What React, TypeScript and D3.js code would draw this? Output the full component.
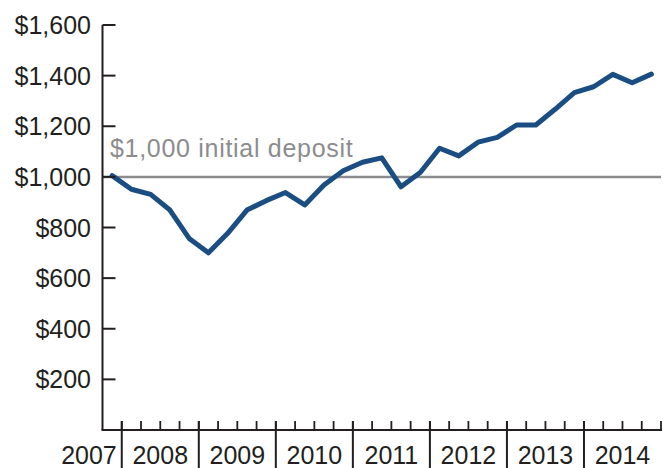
import React from "react";
import * as d3 from "d3";

const quarters = [
  "2007Q4",
  "2008Q1", "2008Q2", "2008Q3", "2008Q4",
  "2009Q1", "2009Q2", "2009Q3", "2009Q4",
  "2010Q1", "2010Q2", "2010Q3", "2010Q4",
  "2011Q1", "2011Q2", "2011Q3", "2011Q4",
  "2012Q1", "2012Q2", "2012Q3", "2012Q4",
  "2013Q1", "2013Q2", "2013Q3", "2013Q4",
  "2014Q1", "2014Q2", "2014Q3", "2014Q4",
];
const values = [
  1005,
  951, 931, 869, 757,
  700, 777, 869, 906,
  938, 889, 968, 1024,
  1058, 1075, 961, 1017,
  1113, 1083, 1137, 1156,
  1205, 1205, 1267, 1333,
  1356, 1405, 1372, 1406,
];
const years = [2007, 2008, 2009, 2010, 2011, 2012, 2013, 2014];
const yTicks = [200, 400, 600, 800, 1000, 1200, 1400, 1600];
const depositValue = 1000;
const depositLabel = "$1,000 initial deposit";

const W = 663;
const H = 468;
const left = 102.5;
const right = 661;
const top = 25;
const bottom = 430;

const FONT = "'Liberation Sans', Arial, Helvetica, sans-serif";
const INK = "#231f20";

export default function App() {
  // quarter index 0 = start of 2007 Q4
  const nQ = quarters.length;
  const x = d3.scaleLinear().domain([0, nQ]).range([left, right]);
  const y = d3.scaleLinear().domain([0, 1600]).range([bottom, top]);
  const qIndex = (q: string) => {
    const yr = +q.slice(0, 4);
    const qq = +q.slice(5);
    return (yr - 2007) * 4 + (qq - 1) - 3;
  };
  const pts: [number, number][] = quarters.map((q, i) => [x(qIndex(q) + 0.5), y(values[i])]);
  const line = d3.line<[number, number]>().x((d) => d[0]).y((d) => d[1]);
  const fmt = (v: number) => "$" + d3.format(",")(v);

  const quarterTicks = d3.range(1, nQ + 1);
  const yearStart = (yr: number) => x((yr - 2007) * 4 - 3);

  return (
    <svg width={W} height={H} style={{ position: "absolute", left: 0, top: 0 }} fontFamily={FONT}>
      <rect x={0} y={0} width={W} height={H} fill="#fff" />
      {/* deposit reference line */}
      <line x1={left} x2={right} y1={y(depositValue)} y2={y(depositValue)} stroke="#8c8c8e" strokeWidth={2.5} />
      <text x={110} y={157} fontSize={25} fill="#8c8c8e" letterSpacing={0.7}>{depositLabel}</text>
      {/* data line */}
      <path d={line(pts) || ""} fill="none" stroke="#1a4e82" strokeWidth={5} strokeLinejoin="round" strokeLinecap="round" />
      {/* y axis */}
      <line x1={left} x2={left} y1={top} y2={bottom} stroke={INK} strokeWidth={2} />
      {yTicks.map((t) => (
        <g key={t}>
          <line x1={left} x2={left + 13} y1={y(t)} y2={y(t)} stroke={INK} strokeWidth={2} />
          <text x={91} y={y(t)} dy="0.36em" textAnchor="end" fontSize={25} fill={INK}>{fmt(t)}</text>
        </g>
      ))}
      {/* x axis */}
      <line x1={left - 1} x2={right + 1} y1={bottom} y2={bottom} stroke={INK} strokeWidth={2} />
      {quarterTicks.map((q) => (
        <line key={q} x1={x(q)} x2={x(q)} y1={bottom - 9} y2={bottom} stroke={INK} strokeWidth={1.8} />
      ))}
      {years.slice(1).map((yr) => (
        <line key={"d" + yr} x1={yearStart(yr)} x2={yearStart(yr)} y1={bottom - 9} y2={H} stroke={INK} strokeWidth={2} />
      ))}
      {years.map((yr) => {
        if (yr === 2007) {
          return (
            <text key={yr} x={yearStart(2008) - 5} y={464} textAnchor="end" fontSize={25} fill={INK}>{yr}</text>
          );
        }
        const s = yearStart(yr);
        const e = Math.min(yearStart(yr + 1), right);
        return (
          <text key={yr} x={(s + e) / 2} y={464} textAnchor="middle" fontSize={25} fill={INK}>{yr}</text>
        );
      })}
    </svg>
  );
}
